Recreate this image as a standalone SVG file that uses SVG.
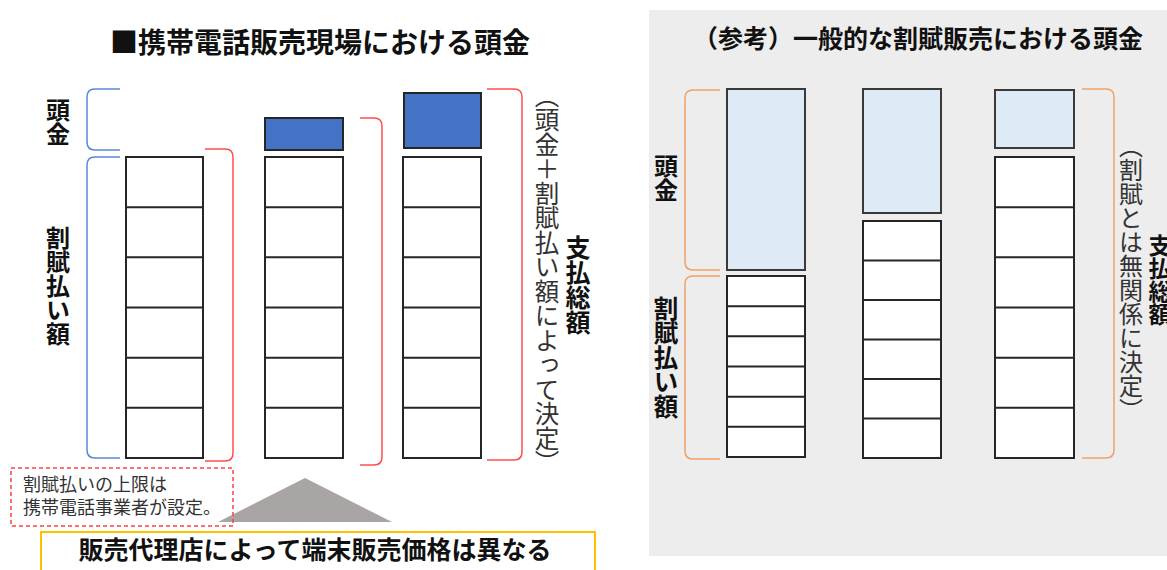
<svg xmlns="http://www.w3.org/2000/svg" width="1167" height="570" viewBox="0 0 1167 570">
<style>
text{font-family:"Noto Sans CJK JP","Noto Sans",sans-serif}
.t{font-weight:bold;fill:#111}
.v{writing-mode:vertical-rl}
.n{fill:#333}
.cell{fill:#fff;stroke:#262626;stroke-width:2}
.ln{stroke:#262626;stroke-width:2}
.dp{fill:#4472C4;stroke:#262626;stroke-width:2}
.lb{fill:#DEEBF7;stroke:#3a3a3a;stroke-width:2}
.bb{fill:none;stroke:#5B86D6;stroke-width:1.5}
.rb{fill:none;stroke:#FF4D4D;stroke-width:1.5}
.ob{fill:none;stroke:#F2A066;stroke-width:1.5}
</style>
<rect width="1167" height="570" fill="#fff"/>
<rect id="ref-panel" x="649" y="10" width="530" height="546" fill="#EDEDED"/>

<g id="title-left"><text class="t" x="320" y="53" font-size="28" text-anchor="middle">■携帯電話販売現場における頭金</text></g>
<g id="title-right"><text class="t" x="918" y="48" font-size="25" text-anchor="middle">（参考）一般的な割賦販売における頭金</text></g>

<!-- left panel -->
<g id="label-atama-left"><text class="t v" x="58" y="98" font-size="24">頭金</text></g>
<g id="label-kappu-left"><text class="t v" x="58" y="226" font-size="24">割賦払い額</text></g>

<g id="col1-left">
<rect class="cell" x="126" y="157" width="77" height="301"/>
<path class="ln" d="M126 207.2H203M126 257.3H203M126 307.5H203M126 357.7H203M126 407.8H203"/>
</g>
<g id="col2-left">
<rect class="dp" x="265" y="118" width="78" height="32"/>
<rect class="cell" x="265" y="157" width="78" height="301"/>
<path class="ln" d="M265 207.2H343M265 257.3H343M265 307.5H343M265 357.7H343M265 407.8H343"/>
</g>
<g id="col3-left">
<rect class="dp" x="404" y="93" width="77" height="55"/>
<rect class="cell" x="403" y="157" width="78" height="301"/>
<path class="ln" d="M403 207.2H481M403 257.3H481M403 307.5H481M403 357.7H481M403 407.8H481"/>
</g>

<g id="brackets-left">
<path class="bb" d="M120 89H95Q87 89 87 97V142Q87 150 95 150H120"/>
<path class="bb" d="M120 157H95Q87 157 87 165V450Q87 458 95 458H120"/>
<path class="rb" d="M205 149H225Q233 149 233 157V453Q233 461 225 461H205"/>
<path class="rb" d="M360 118H374Q382 118 382 126V457Q382 465 374 465H360"/>
<path class="rb" d="M487 89H514Q522 89 522 97V452Q522 460 514 460H487"/>
</g>

<g id="label-total-left">
<text class="n v" x="547" y="83" font-size="24.5">（頭金＋割賦払い額によって決定）</text>
<text class="t v" x="578" y="235" font-size="25">支払総額</text>
</g>

<g id="triangle"><polygon points="305,478 392,522 218,522" fill="#A9A5A4"/></g>

<g id="note-box">
<rect x="11" y="468" width="222" height="58" fill="none" stroke="#FF4040" stroke-width="1.5" stroke-dasharray="4 3"/>
<text class="n" x="23" y="491" font-size="18">割賦払いの上限は</text>
<text class="n" x="23" y="514" font-size="18">携帯電話事業者が設定。</text>
</g>

<g id="bottom-box">
<rect x="41" y="532" width="554" height="50" fill="#fff" stroke="#FFC000" stroke-width="2"/>
<text class="t" x="315" y="559" font-size="25" text-anchor="middle">販売代理店によって端末販売価格は異なる</text>
</g>

<!-- right panel -->
<g id="label-atama-right"><text class="t v" x="666" y="154" font-size="24">頭金</text></g>
<g id="label-kappu-right"><text class="t v" x="666" y="296" font-size="24.5">割賦払い額</text></g>

<g id="col1-right">
<rect class="lb" x="727" y="89" width="78" height="181"/>
<rect class="cell" x="727" y="276" width="78" height="181"/>
<path class="ln" d="M727 306.2H805M727 336.3H805M727 366.5H805M727 396.7H805M727 426.8H805"/>
</g>
<g id="col2-right">
<rect class="lb" x="863" y="89" width="78" height="124"/>
<rect class="cell" x="863" y="221" width="78" height="237"/>
<path class="ln" d="M863 260.5H941M863 300H941M863 339.5H941M863 379H941M863 418.5H941"/>
</g>
<g id="col3-right">
<rect class="lb" x="995" y="90" width="79" height="58"/>
<rect class="cell" x="995" y="157" width="79" height="301"/>
<path class="ln" d="M995 207.2H1074M995 257.3H1074M995 307.5H1074M995 357.7H1074M995 407.8H1074"/>
</g>

<g id="brackets-right">
<path class="ob" d="M720 90H693Q685 90 685 98V262Q685 270 693 270H720"/>
<path class="ob" d="M720 276H693Q685 276 685 284V451Q685 459 693 459H720"/>
<path class="ob" d="M1082 89H1106Q1114 89 1114 97V450Q1114 458 1106 458H1082"/>
</g>

<g id="label-total-right">
<text class="n v" x="1131" y="134" font-size="24">（割賦とは無関係に決定）</text>
<text class="t v" x="1160" y="234" font-size="23">支払総額</text>
</g>
</svg>
